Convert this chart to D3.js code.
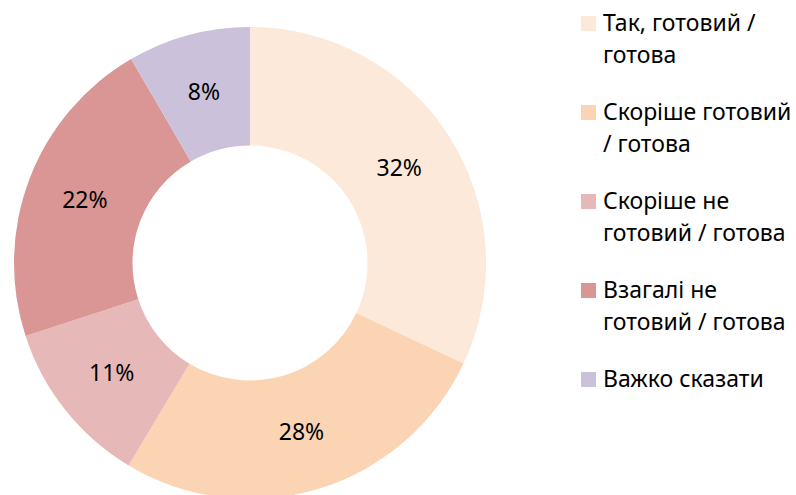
<!DOCTYPE html>
<html><head><meta charset="utf-8">
<script src="https://cdn.jsdelivr.net/npm/d3@7/dist/d3.min.js"></script>
<style>body{margin:0;background:#fff}svg{display:block}</style>
</head><body>
<svg id="c" width="796" height="495"></svg>
<script>
const categories = ["Так, готовий /\nготова", "Скоріше готовий\n/ готова", "Скоріше не\nготовий / готова", "Взагалі не\nготовий / готова", "Важко сказати"];
// slice shares as drawn in the picture
const values = [32.0, 26.6, 11.4, 21.6, 8.4];
// data labels as printed
const labels = ["32%", "28%", "11%", "22%", "8%"];
const colors = ["#FDE9D9", "#FBD4B4", "#E6B9B8", "#D99694", "#CCC1DA"];

const FONT = "Noto Sans, sans-serif";
const svg = d3.select("#c");
const cx = 250, cy = 263, R = 236, r = 117.5;
const data = categories.map((c, i) => ({cat: c, v: values[i], lab: labels[i], col: colors[i]}));
const pie = d3.pie().value(d => d.v).sort(null);
const arc = d3.arc().innerRadius(r).outerRadius(R);
const g = svg.append("g").attr("transform", `translate(${cx},${cy})`);
const arcs = pie(data);
g.selectAll("path").data(arcs).join("path").attr("d", arc).attr("fill", d => d.data.col);
g.selectAll("text").data(arcs).join("text")
  .attr("transform", d => `translate(${arc.centroid(d)})`)
  .attr("text-anchor", "middle").attr("dy", "0.35em")
  .attr("font-family", FONT).attr("font-size", 23).attr("fill", "#000")
  .text(d => d.data.lab);

const lg = svg.append("g");
const baselines = [31, 120, 209, 298, 387];
data.forEach((d, i) => {
  const y = baselines[i];
  lg.append("rect").attr("x", 581).attr("y", y - 15).attr("width", 15).attr("height", 15).attr("fill", d.col);
  const t = lg.append("text").attr("x", 603).attr("y", y).attr("font-family", FONT).attr("font-size", 23).attr("fill", "#000");
  d.cat.split("\n").forEach((line, j) => {
    t.append("tspan").attr("x", 603).attr("y", y + j * 32).text(line);
  });
});
</script>
</body></html>
